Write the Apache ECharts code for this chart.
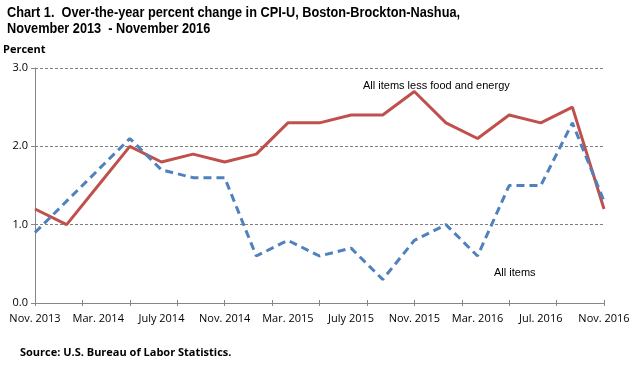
<!DOCTYPE html>
<html><head><meta charset="utf-8">
<script src="https://cdn.jsdelivr.net/npm/echarts@6/dist/echarts.min.js"></script>
<style>html,body{margin:0;padding:0;background:#fff;}#c{width:640px;height:385px;}</style>
</head><body><div id="c"></div>
<script>
var categories = ['Nov. 2013','Jan. 2014','Mar. 2014','May 2014','July 2014','Sep. 2014','Nov. 2014','Jan. 2015','Mar. 2015','May 2015','July 2015','Sep. 2015','Nov. 2015','Jan. 2016','Mar. 2016','May 2016','Jul. 2016','Sep. 2016','Nov. 2016'];
var allItems = [0.9,1.3,1.7,2.1,1.7,1.6,1.6,0.6,0.8,0.6,0.7,0.3,0.8,1.0,0.6,1.5,1.5,2.3,1.3];
var coreItems = [1.2,1.0,1.5,2.0,1.8,1.9,1.8,1.9,2.3,2.3,2.4,2.4,2.7,2.3,2.1,2.4,2.3,2.5,1.2];
var yTicks = [0,1,2,3];

var chart = echarts.init(document.getElementById('c'), null, {renderer:'canvas'});
var tickAxis = function(inside){
  return {type:'value', min:0, max:12, interval:1, position:'bottom', gridIndex:0,
    axisLine:{show:true, lineStyle:{color:'#868686', width:1}},
    axisTick:{show:true, inside:inside, length:3, lineStyle:{color:'#868686'}},
    axisLabel:{show:false}, splitLine:{show:false}};
};
chart.setOption({
  animation:false,
  grid:{left:35, right:36, top:68, bottom:82},
  xAxis:[{type:'category', data:categories, boundaryGap:false,
    axisLine:{show:true, lineStyle:{color:'#868686'}},
    axisTick:{show:false},
    axisLabel:{interval:1, margin:10, color:'#000', fontFamily:'Open Sans', fontSize:11},
    splitLine:{show:false}},
    tickAxis(true), tickAxis(false)],
  yAxis:{type:'value', min:0, max:3, interval:1,
    axisLine:{show:true, lineStyle:{color:'#868686'}},
    axisTick:{show:true, length:4, lineStyle:{color:'#868686'}},
    axisLabel:{formatter:function(v){return v.toFixed(1);}, margin:7, color:'#000', fontFamily:'Open Sans', fontSize:11},
    splitLine:{show:true, lineStyle:{color:'#7f7f7f', type:[3,2], width:1}}},
  series:[
    {name:'All items less food and energy', type:'line', data:coreItems, symbol:'none',
     lineStyle:{color:'#C0504D', width:3}, z:3},
    {name:'All items', type:'line', data:allItems, symbol:'none',
     lineStyle:{color:'#4F81BD', width:3, type:[8,5]}, z:4}
  ],
  graphic:[
    {type:'text', x:7, y:5, scaleX:0.91, style:{text:'Chart 1.  Over-the-year percent change in CPI-U, Boston-Brockton-Nashua,\nNovember 2013  - November 2016', font:'bold 14px "Liberation Sans"', fill:'#000', lineHeight:16}},
    {type:'text', left:3, top:44, style:{text:'Percent', font:'bold 11px "Open Sans"', fill:'#000'}},
    {type:'text', left:363, top:80, style:{text:'All items less food and energy', font:'11px "Liberation Sans"', fill:'#000'}},
    {type:'text', left:494, top:267, style:{text:'All items', font:'11px "Liberation Sans"', fill:'#000'}},
    {type:'text', left:20, top:347, style:{text:'Source: U.S. Bureau of Labor Statistics.', font:'bold 11px "Open Sans"', fill:'#000'}}
  ]
});
</script></body></html>
